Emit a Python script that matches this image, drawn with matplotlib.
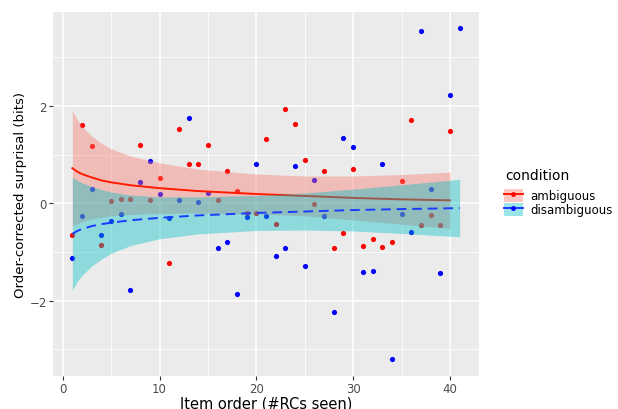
import numpy as np
import matplotlib
matplotlib.use("Agg")
import matplotlib.pyplot as plt
from matplotlib.lines import Line2D
from matplotlib.patches import Patch
from matplotlib.ticker import MultipleLocator

# item order (#RCs seen) and order-corrected surprisal
order_amb = list(range(1, 41))
surp_amb = [-0.65, 1.61, 1.18, -0.85, 0.05, 0.08, 0.08, 1.20, 0.07, 0.52,
            -1.22, 1.53, 0.81, 0.81, 1.20, 0.07, 0.66, 0.26, -0.21, -0.20,
            1.33, -0.42, 1.93, 1.62, 0.89, -0.01, 0.67, -0.92, -0.62, 0.71,
            -0.87, -0.74, -0.90, -0.79, 0.46, 1.72, -0.45, -0.24, -0.44, 1.48]

order_dis = list(range(1, 42))
surp_dis = [-1.12, -0.27, 0.30, -0.65, -0.36, -0.23, -1.78, 0.43, 0.87, 0.18,
            -0.31, 0.07, 1.76, 0.02, 0.22, -0.92, -0.80, -1.87, -0.29, 0.80,
            -0.26, -1.09, -0.91, 0.77, -1.28, 0.47, -0.26, -2.23, 1.34, 1.15,
            -1.42, -1.40, 0.81, -3.21, -0.23, -0.60, 3.53, 0.29, -1.43, 2.22,
            3.60]

# smooth (fit + 95% band) as drawn in the picture, read at a few item orders
smooth_x_amb = [1, 1.5, 2, 3, 4, 5, 7, 10, 14, 20, 25, 30, 35, 40]
fit_amb = [0.72, 0.65, 0.60, 0.53, 0.47, 0.43, 0.37, 0.31, 0.25, 0.19, 0.15, 0.11, 0.08, 0.06]
upper_amb = [1.91, 1.72, 1.58, 1.38, 1.23, 1.12, 0.97, 0.83, 0.70, 0.60, 0.56, 0.56, 0.59, 0.64]
lower_amb = [-0.47, -0.42, -0.38, -0.32, -0.29, -0.26, -0.23, -0.21, -0.20, -0.22, -0.26, -0.34, -0.43, -0.52]

smooth_x_dis = [1, 1.5, 2, 3, 4, 5, 7, 10, 14, 20, 25, 30, 35, 41]
fit_dis = [-0.63, -0.57, -0.53, -0.47, -0.43, -0.40, -0.35, -0.30, -0.25, -0.20, -0.17, -0.14, -0.12, -0.10]
upper_dis = [0.53, 0.47, 0.42, 0.34, 0.28, 0.23, 0.17, 0.13, 0.13, 0.16, 0.21, 0.29, 0.38, 0.49]
lower_dis = [-1.79, -1.61, -1.48, -1.29, -1.15, -1.03, -0.87, -0.73, -0.63, -0.56, -0.55, -0.57, -0.62, -0.69]

conditions = ["ambiguous", "disambiguous"]
point_colors = ["#FF0000", "#0000FF"]
line_colors = ["#FF1A00", "#1A3CFF"]
fill_colors = ["#F8766D", "#00BFC4"]

fig = plt.figure(figsize=(6.18, 4.10), dpi=100)
ax = fig.add_axes([53 / 618, 1 - 377 / 410, 426 / 618, 364.5 / 410])
ax.set_facecolor("#EBEBEB")
for s in ax.spines.values():
    s.set_visible(False)

ax.xaxis.set_major_locator(MultipleLocator(10))
ax.xaxis.set_minor_locator(MultipleLocator(5))
ax.yaxis.set_major_locator(MultipleLocator(2))
ax.yaxis.set_minor_locator(MultipleLocator(1))
ax.grid(which="major", color="white", lw=1.1)
ax.grid(which="minor", color="white", lw=0.55)
ax.set_axisbelow(True)

ax.scatter(order_amb, surp_amb, s=14, color=point_colors[0], lw=0, zorder=2)
ax.scatter(order_dis, surp_dis, s=14, color=point_colors[1], lw=0, zorder=2)

# ribbon + line per group, red first so the blue band sits on top
smooths = [(smooth_x_amb, fit_amb, lower_amb, upper_amb),
           (smooth_x_dis, fit_dis, lower_dis, upper_dis)]
styles = ["-", (0, (5, 3))]
for i, (xs, fit, lo, hi) in enumerate(smooths):
    ax.fill_between(xs, lo, hi, color=fill_colors[i], alpha=0.4, lw=0, zorder=3 + 2 * i)
    ax.plot(xs, fit, color=line_colors[i], lw=1.4, ls=styles[i], zorder=4 + 2 * i)

all_x = order_amb + order_dis
all_y = surp_amb + surp_dis
xr = max(all_x) - min(all_x)
yr = max(all_y) - min(all_y)
ax.set_xlim(min(all_x) - 0.05 * xr, max(all_x) + 0.05 * xr)
ax.set_ylim(min(all_y) - 0.05 * yr, max(all_y) + 0.05 * yr)

ax.tick_params(which="major", length=3, width=0.8, color="#333333",
               labelcolor="#4D4D4D", labelsize=8.5, pad=1.5)
ax.tick_params(which="minor", length=0)

ax.set_xlabel("Item order (#RCs seen)", fontsize=10.5, labelpad=0)
ax.set_ylabel("Order-corrected surprisal (bits)", fontsize=9.5, labelpad=2)

handles = []
for i in range(2):
    patch = Patch(facecolor=fill_colors[i], alpha=0.4, edgecolor="none")
    line = Line2D([], [], color=line_colors[i], lw=1.4, marker="o",
                  markersize=3.5, markerfacecolor=point_colors[i],
                  markeredgewidth=0)
    handles.append((patch, line))

fig.text(505 / 618, 1 - 176 / 410, "condition", fontsize=10, va="center", ha="left")
fig.legend(handles, conditions, loc="upper left",
           bbox_to_anchor=(504 / 618, 1 - 190 / 410), frameon=False,
           fontsize=8.5, handlelength=1.6, handleheight=1.3, handletextpad=0.6,
           labelspacing=0.05, borderpad=0, borderaxespad=0, numpoints=1)

fig.savefig("out.png", dpi=100)
